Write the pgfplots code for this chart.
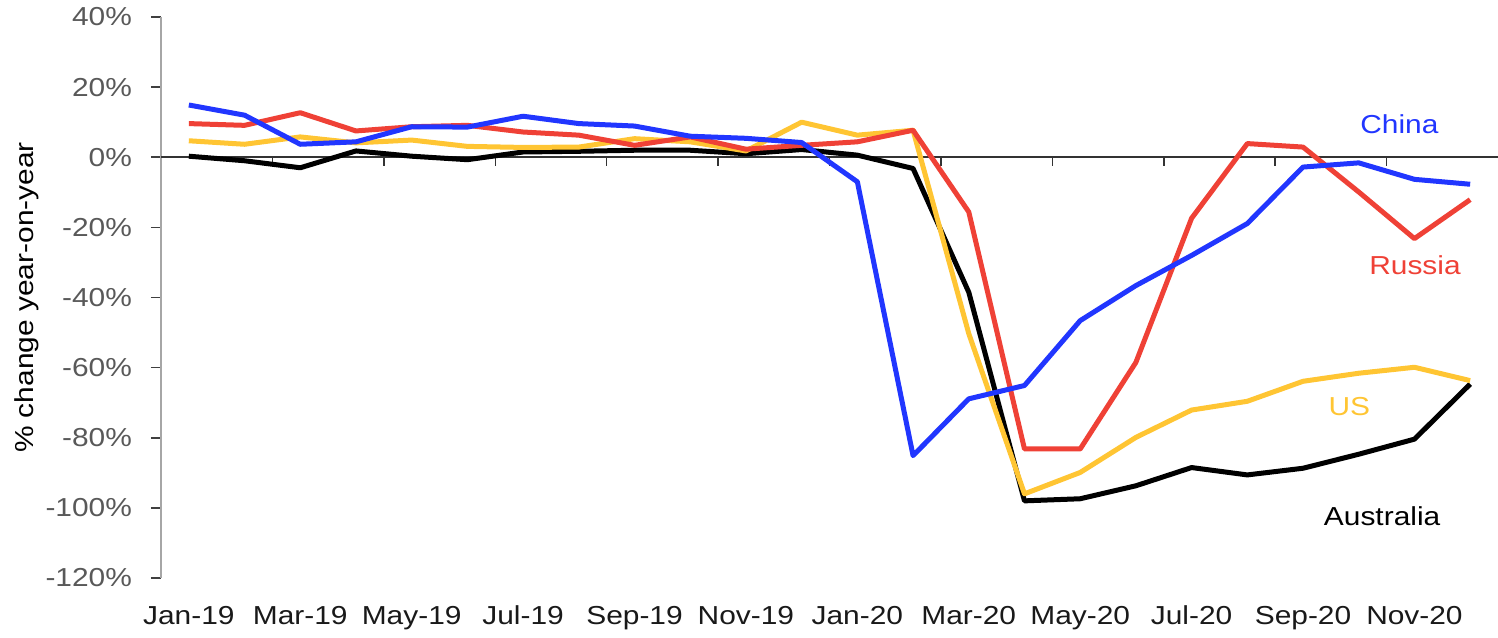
\documentclass[border=0pt]{standalone}
\usepackage{fontspec}
\setmainfont[FakeStretch=1.15]{Liberation Sans}
\usepackage{pgfplots}
\usepackage{pgfplotstable}
\pgfplotsset{compat=1.18}

\definecolor{cnblue}{HTML}{2136FF}
\definecolor{rured}{HTML}{EF4136}
\definecolor{usyel}{HTML}{FFC533}
\definecolor{axgray}{HTML}{A6A6A6}
\definecolor{lblgray}{HTML}{595959}

% month index (0 = Jan-19) and % change year-on-year
\pgfplotstableread{
m  china  russia  us     aus
0   14.9   9.6    4.7    0.3
1   12.0   9.1    3.7   -1.0
2    3.7  12.7    5.8   -3.0
3    4.4   7.5    4.1    1.8
4    8.7   8.7    4.9    0.3
5    8.6   9.1    3.1   -0.7
6   11.7   7.2    2.8    1.5
7    9.6   6.3    2.9    1.7
8    8.9   3.4    5.3    2.0
9    6.0   5.8    4.4    2.0
10   5.4   2.3    1.8    1.0
11   4.2   3.4   10.0    2.2
12  -7.0   4.4    6.3    0.6
13 -85.1   7.7    7.7   -3.2
14 -68.9 -15.6  -50.3  -38.5
15 -65.1 -83.2  -96.0  -98.0
16 -46.6 -83.2  -89.9  -97.4
17 -36.6 -58.5  -79.9  -93.7
18 -28.0 -17.4  -72.1  -88.5
19 -18.9   3.9  -69.6  -90.6
20  -2.8   2.9  -63.9  -88.7
21  -1.6  -9.9  -61.6  -84.7
22  -6.3 -23.2  -59.9  -80.4
23  -7.7 -12.1  -63.7  -64.7
}\mydata

\begin{document}
\begin{tikzpicture}
\begin{axis}[
    name=ax,
    scale only axis,
    width=668.5bp, height=280.5bp,
    xmin=-0.5, xmax=23.5,
    ymin=-120, ymax=40,
    axis lines*=left,
    x axis line style={draw=none},
    y axis line style={axgray, line width=1bp},
    xtick={0,2,...,22},
    xticklabels={Jan-19,Mar-19,May-19,Jul-19,Sep-19,Nov-19,Jan-20,Mar-20,May-20,Jul-20,Sep-20,Nov-20},
    x tick style={draw=none},
    ytick={-120,-100,...,40},
    yticklabels={-120\%,-100\%,-80\%,-60\%,-40\%,-20\%,0\%,20\%,40\%},
    y tick style={black!75, line width=0.75bp},
    tick align=outside,
    major tick length=5bp,
    tick label style={font=\fontsize{13bp}{15bp}\selectfont},
    yticklabel style={lblgray, xshift=-6bp},
    xticklabel style={black!90, yshift=-5.5bp},
    ylabel={\% change year-on-year},
    every axis y label/.style={at={(axis description cs:-0.1002,0.5)}, rotate=90, anchor=center, font=\fontsize{13bp}{15bp}\selectfont},
    clip=false,
    every axis plot/.append style={line width=2.5bp, line join=round, no markers},
  ]
  % zero line with ticks between every second category
  \draw[black!80, line width=0.75bp] (axis cs:-0.5,0) -- (axis cs:23.5,0);
  \pgfplotsinvokeforeach{1.5,3.5,5.5,7.5,9.5,11.5,13.5,15.5,17.5,19.5,21.5}{
    \draw[black!80, line width=0.75bp] (axis cs:#1,0) -- ([yshift=-4.5bp]axis cs:#1,0);
  }
  \addplot[black]  table[x=m, y=aus]    {\mydata};
  \addplot[usyel]  table[x=m, y=us]     {\mydata};
  \addplot[rured]  table[x=m, y=russia] {\mydata};
  \addplot[cnblue] table[x=m, y=china]  {\mydata};

  \node[cnblue, font=\fontsize{13bp}{15bp}\selectfont] at (axis cs:21.73,9.4) {China};
  \node[rured, font=\fontsize{13bp}{15bp}\selectfont] at (axis cs:22.01,-30.9) {Russia};
  \node[usyel, font=\fontsize{13bp}{15bp}\selectfont] at (axis cs:20.83,-71.1) {US};
  \node[black, font=\fontsize{13bp}{15bp}\selectfont] at (axis cs:21.42,-102.3) {Australia};
\end{axis}
\pgfresetboundingbox
\path[use as bounding box] ([xshift=-80.5bp,yshift=-30bp]ax.south west) rectangle ([yshift=8.5bp]ax.north east);
\end{tikzpicture}
\end{document}
